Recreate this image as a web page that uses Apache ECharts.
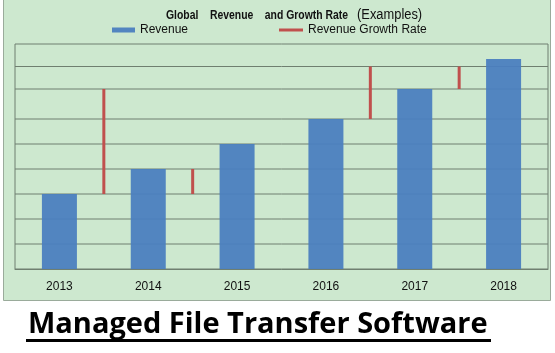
<!DOCTYPE html>
<html>
<head>
<meta charset="utf-8">
<script src="https://cdn.jsdelivr.net/npm/echarts@6/dist/echarts.min.js"></script>
<style>
  html, body { margin: 0; padding: 0; background: #fff; }
  #chart { width: 555px; height: 353px; }
</style>
</head>
<body>
<div id="chart"></div>
<script>
// categories and values (y in grid units)
const years = ['2013', '2014', '2015', '2016', '2017', '2018'];
const revenue = [3, 4, 5, 6, 7.2, 8.4];

// growth rate marks sit between two years
const growthPos = [0.5, 1.5, 3.5, 4.5];
const growthFrom = [3, 3, 6, 7.2];
const growthTo = [7.2, 4, 8.1, 8.1];

// horizontal gridlines (uneven in the original)
const gridValues = [1, 2, 3, 4, 5, 6, 7.2, 8.1];

const SANS = '"Liberation Sans", Arial, sans-serif';
const GRID_COLOR = '#6f7f70';

const chart = echarts.init(document.getElementById('chart'));

chart.setOption({
  animation: false,
  legend: [
    {
      data: ['Revenue'],
      left: 112,
      top: 24,
      padding: 0,
      icon: 'rect',
      itemWidth: 23,
      itemHeight: 5,
      textStyle: { fontFamily: SANS, fontSize: 12, color: '#111' },
    },
    {
      data: ['Revenue Growth Rate'],
      left: 279,
      top: 24,
      padding: 0,
      icon: 'rect',
      itemWidth: 24,
      itemHeight: 3,
      textStyle: { fontFamily: SANS, fontSize: 12, color: '#111' },
    },
  ],
  grid: {
    left: 15,
    right: 7,
    top: 44,
    bottom: 84,
    show: true,
    borderColor: GRID_COLOR,
    borderWidth: 1,
    backgroundColor: 'transparent',
  },
  xAxis: [
    {
      type: 'category',
      data: years,
      axisLine: { lineStyle: { color: GRID_COLOR } },
      axisTick: { show: false },
      axisLabel: { fontFamily: SANS, fontSize: 12, color: '#111', margin: 12 },
    },
    {
      type: 'value',
      min: -0.5,
      max: 5.5,
      show: false,
    },
  ],
  yAxis: {
    type: 'value',
    min: 0,
    max: 9,
    show: false,
    splitLine: { show: false },
  },
  series: [
    {
      name: 'gridlines',
      type: 'custom',
      xAxisIndex: 1,
      silent: true,
      z: 1,
      data: gridValues.map(v => [0, v]),
      renderItem(params, api) {
        const cs = params.coordSys;
        const y = api.coord([0, api.value(1)])[1];
        return {
          type: 'line',
          shape: { x1: cs.x, y1: y, x2: cs.x + cs.width, y2: y },
          style: { stroke: GRID_COLOR, lineWidth: 1 },
        };
      },
    },
    {
      name: 'Revenue',
      type: 'bar',
      z: 3,
      data: revenue,
      barWidth: 35,
      itemStyle: { color: '#4a7ebf', opacity: 0.94 },
    },
    {
      name: 'Revenue Growth Rate',
      type: 'custom',
      xAxisIndex: 1,
      z: 4,
      itemStyle: { color: '#c0504d' },
      data: growthPos.map((x, i) => [x, growthFrom[i], growthTo[i]]),
      renderItem(params, api) {
        const p1 = api.coord([api.value(0), api.value(1)]);
        const p2 = api.coord([api.value(0), api.value(2)]);
        return {
          type: 'line',
          shape: { x1: p1[0], y1: p1[1], x2: p2[0], y2: p2[1] },
          style: { stroke: '#c0504d', lineWidth: 3 },
        };
      },
    },
  ],
  graphic: [
    {
      type: 'rect',
      z: -10,
      silent: true,
      shape: { x: 3.5, y: -2, width: 547, height: 302.5 },
      style: { fill: '#cde8cf', stroke: '#9aab9b', lineWidth: 1 },
    },
    // chart title: narrow bold face imitated by squeezing the text
    {
      type: 'text',
      x: 166,
      y: 15,
      scaleX: 0.8,
      style: {
        text: 'Global    Revenue    and Growth Rate',
        font: 'bold 13px "Liberation Sans", Arial, sans-serif',
        fill: '#111',
        align: 'left',
        verticalAlign: 'middle',
      },
    },
    {
      type: 'text',
      x: 357,
      y: 15,
      scaleX: 0.92,
      style: {
        text: '(Examples)',
        font: '14px "Liberation Sans", Arial, sans-serif',
        fill: '#111',
        align: 'left',
        verticalAlign: 'middle',
      },
    },
    {
      type: 'text',
      x: 28,
      y: 325,
      style: {
        text: 'Managed File Transfer Software',
        font: 'bold 29px "Open Sans", "Lato", sans-serif',
        fill: '#000',
        align: 'left',
        verticalAlign: 'middle',
      },
    },
    {
      type: 'rect',
      shape: { x: 26, y: 339, width: 465, height: 3 },
      style: { fill: '#000' },
    },
  ],
});
</script>
</body>
</html>
